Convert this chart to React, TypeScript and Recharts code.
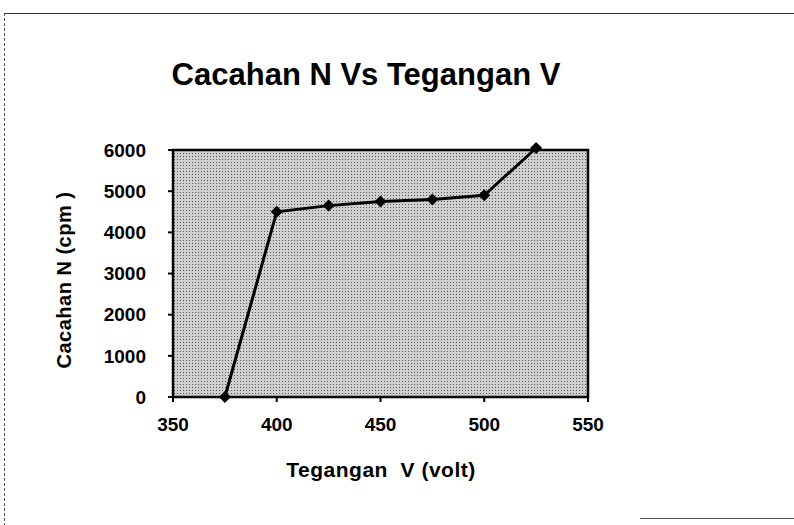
import {
  LineChart,
  Line,
  XAxis,
  YAxis,
  ReferenceArea,
} from "recharts";

const voltage = [375, 400, 425, 450, 475, 500, 525];
const counts = [0, 4500, 4650, 4750, 4800, 4900, 6050];
const xTicks = [350, 400, 450, 500, 550];
const yTicks = [0, 1000, 2000, 3000, 4000, 5000, 6000];

const chartData = voltage.map((v, i) => ({ v, n: counts[i] }));

const font = "'Liberation Sans', Arial, Helvetica, sans-serif";

function Diamond(props: { cx?: number; cy?: number; index?: number }) {
  const { cx, cy } = props;
  if (cx == null || cy == null) return null;
  const r = 6;
  return (
    <polygon
      key={`d-${props.index}`}
      points={`${cx},${cy - r} ${cx + r},${cy} ${cx},${cy + r} ${cx - r},${cy}`}
      fill="#000"
    />
  );
}

export default function App() {
  return (
    <div
      style={{
        position: "absolute",
        left: 0,
        top: 0,
        width: 794,
        height: 525,
        background: "#fff",
        fontFamily: font,
      }}
    >
      {/* scanned page frame */}
      <div
        style={{
          position: "absolute",
          left: 4,
          top: 13,
          width: 790,
          height: 512,
          borderTop: "1.5px solid #333",
          borderLeft: "1px dashed #555",
        }}
      />
      <div
        style={{
          position: "absolute",
          left: 640,
          top: 518,
          width: 154,
          borderTop: "1px solid #555",
        }}
      />
      <div
        style={{
          position: "absolute",
          left: 0,
          width: 732,
          top: 57,
          textAlign: "center",
          fontSize: 31,
          fontWeight: "bold",
          color: "#000",
        }}
      >
        Cacahan N Vs Tegangan V
      </div>
      <div
        style={{
          position: "absolute",
          left: 0,
          width: 762,
          top: 458,
          textAlign: "center",
          fontSize: 21,
          letterSpacing: 0.5,
          fontWeight: "bold",
          color: "#000",
        }}
      >
        Tegangan&nbsp; V (volt)
      </div>
      <div
        style={{
          position: "absolute",
          left: 64,
          top: 280,
          transform: "translate(-50%, -50%) rotate(-90deg)",
          whiteSpace: "nowrap",
          fontSize: 20,
          letterSpacing: 0.5,
          fontWeight: "bold",
          color: "#000",
        }}
      >
        Cacahan N (cpm )
      </div>
      <LineChart
        width={794}
        height={525}
        data={chartData}
        margin={{ top: 148, right: 206, bottom: 68, left: 100 }}
        style={{ position: "absolute", left: 0, top: 0 }}
      >
        <defs>
          <pattern id="dots" width="3" height="3" patternUnits="userSpaceOnUse">
            <rect width="3" height="3" fill="#d0d0d0" />
            <rect width="1" height="1" fill="#555" />
          </pattern>
        </defs>
        <XAxis
          dataKey="v"
          type="number"
          domain={[350, 550]}
          ticks={xTicks}
          height={60}
          tickSize={5}
          tickMargin={16}
          axisLine={false}
          tickLine={{ stroke: "#000", strokeWidth: 2 }}
          tick={{ fontSize: 19, fontWeight: "bold", fill: "#000", fontFamily: font }}
        />
        <YAxis
          type="number"
          domain={[0, 6000]}
          ticks={yTicks}
          width={73}
          tickSize={5}
          tickMargin={22}
          axisLine={false}
          tickLine={{ stroke: "#000", strokeWidth: 2 }}
          tick={{ fontSize: 19, fontWeight: "bold", fill: "#000", fontFamily: font }}
        />
        <ReferenceArea
          x1={350}
          x2={550}
          y1={0}
          y2={6000}
          fill="url(#dots)"
          fillOpacity={1}
          stroke="#000"
          strokeWidth={2.5}
          ifOverflow="visible"
        />
        <Line
          dataKey="n"
          stroke="#000"
          strokeWidth={3}
          dot={<Diamond />}
          activeDot={false}
          isAnimationActive={false}
        />
      </LineChart>
    </div>
  );
}
